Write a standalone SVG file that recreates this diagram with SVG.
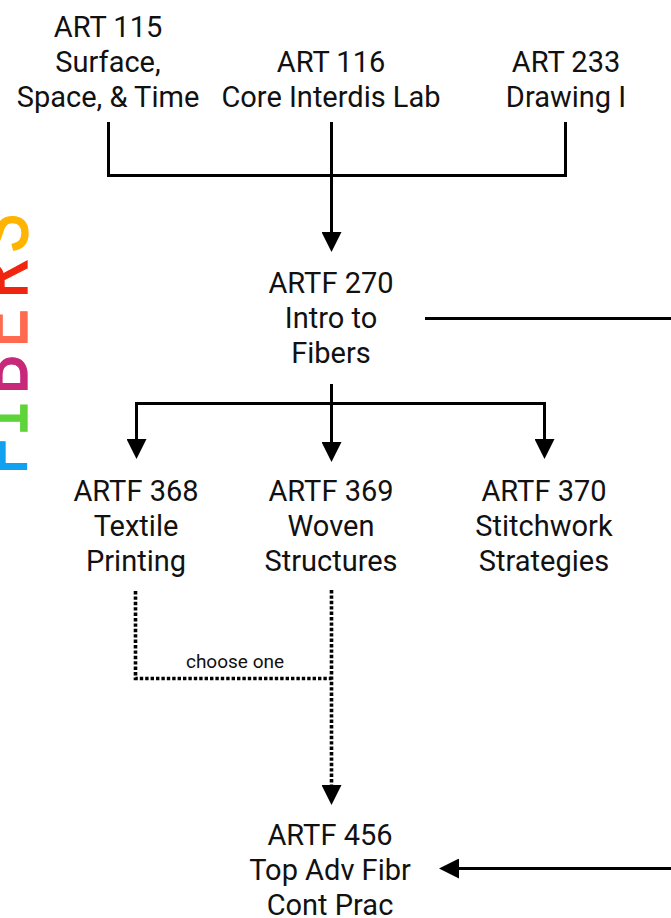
<svg xmlns="http://www.w3.org/2000/svg" width="671" height="918" viewBox="0 0 671 918">
<style>
.t{font-family:Roboto,"Liberation Sans",sans-serif;font-size:29px;fill:#111;text-anchor:middle}
.s{font-family:Roboto,"Liberation Sans",sans-serif;font-size:19px;fill:#111;text-anchor:middle}
.c{fill:none;stroke:#000;stroke-width:3;stroke-linejoin:miter}
.d{fill:none;stroke:#000;stroke-width:3.6;stroke-dasharray:3.4 2}
.f{font-family:"Liberation Mono","DejaVu Sans Mono",monospace;font-size:82px;text-anchor:middle;stroke-width:1.3}
</style>
<defs>
<marker id="ah" viewBox="0 0 20 20" refX="0" refY="10" markerWidth="20" markerHeight="20" markerUnits="userSpaceOnUse" orient="auto"><path d="M0,0 L20,10 L0,20 z" fill="#000"/></marker>
</defs>
<rect width="671" height="918" fill="#fff"/>
<g id="fibers-title">
<text class="f" fill="#12a0f0" stroke="#12a0f0" transform="translate(27,456) rotate(-90) scale(0.8,1)">F</text>
<text class="f" fill="#5fd43a" stroke="#5fd43a" transform="translate(27,418) rotate(-90) scale(0.8,1)">I</text>
<text class="f" fill="#c8287a" stroke="#c8287a" transform="translate(27,375) rotate(-90) scale(0.8,1)">B</text>
<text class="f" fill="#ff6a50" stroke="#ff6a50" transform="translate(27,328) rotate(-90) scale(0.8,1)">E</text>
<text class="f" fill="#f0250f" stroke="#f0250f" transform="translate(27,279) rotate(-90) scale(0.8,1)">R</text>
<text class="f" fill="#ffb400" stroke="#ffb400" transform="translate(27,233) rotate(-90) scale(0.8,1)">S</text>
</g>
<g id="connectors">
<path class="c" d="M108.5,122 V175.5 H565.5 V122"/>
<path class="c" d="M331.5,122 V232" marker-end="url(#ah)"/>
<path class="c" d="M331.5,384 V442" marker-end="url(#ah)"/>
<path class="c" d="M331.5,403.5 H136.5 V439" marker-end="url(#ah)"/>
<path class="c" d="M331.5,403.5 H544.5 V439" marker-end="url(#ah)"/>
<path class="c" d="M425,318.5 H700 V868.5 H459" marker-end="url(#ah)"/>
<path class="d" d="M135.5,591 V678.5 H331.5"/>
<path class="d" d="M331.5,590 V785" marker-end="url(#ah)"/>
<text class="s" x="235" y="668">choose one</text>
</g>
<g id="art115"><text class="t" x="108" y="37">ART 115</text><text class="t" x="108" y="72">Surface,</text><text class="t" x="108" y="107">Space, &amp; Time</text></g>
<g id="art116"><text class="t" x="331" y="72">ART 116</text><text class="t" x="331" y="107">Core Interdis Lab</text></g>
<g id="art233"><text class="t" x="566" y="72">ART 233</text><text class="t" x="566" y="107">Drawing I</text></g>
<g id="artf270"><text class="t" x="331" y="293">ARTF 270</text><text class="t" x="331" y="328">Intro to</text><text class="t" x="331" y="363">Fibers</text></g>
<g id="artf368"><text class="t" x="136" y="501">ARTF 368</text><text class="t" x="136" y="536">Textile</text><text class="t" x="136" y="571">Printing</text></g>
<g id="artf369"><text class="t" x="331" y="501">ARTF 369</text><text class="t" x="331" y="536">Woven</text><text class="t" x="331" y="571">Structures</text></g>
<g id="artf370"><text class="t" x="544" y="501">ARTF 370</text><text class="t" x="544" y="536">Stitchwork</text><text class="t" x="544" y="571">Strategies</text></g>
<g id="artf456"><text class="t" x="330" y="845">ARTF 456</text><text class="t" x="330" y="880">Top Adv Fibr</text><text class="t" x="330" y="915">Cont Prac</text></g>
</svg>
